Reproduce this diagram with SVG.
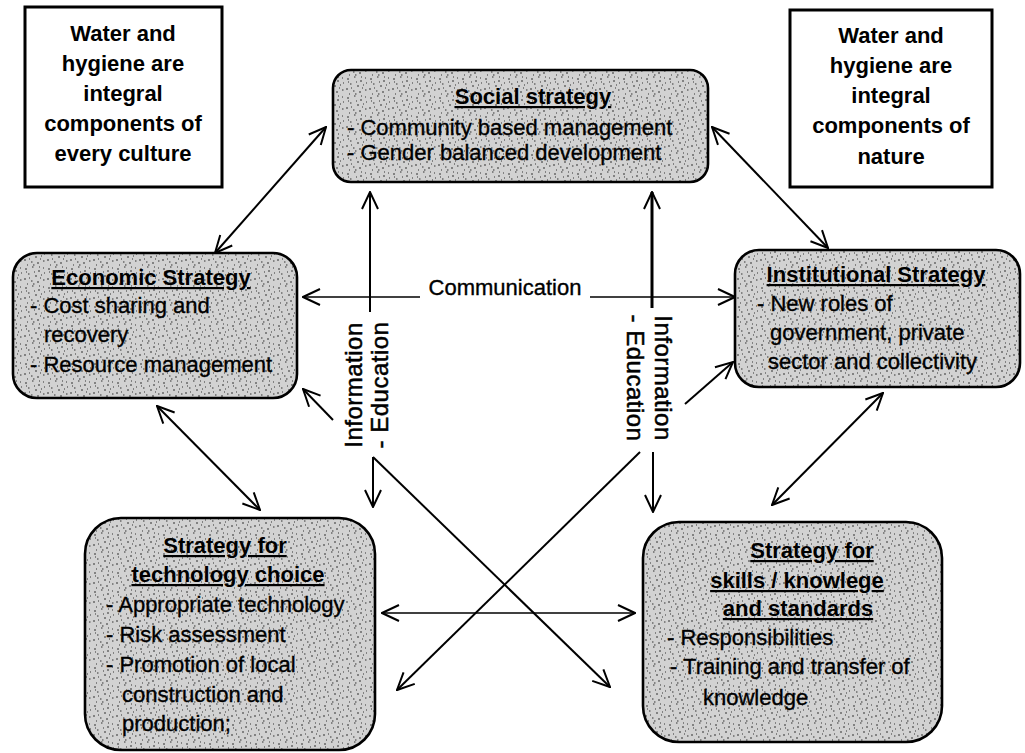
<svg xmlns="http://www.w3.org/2000/svg" width="1025" height="753" viewBox="0 0 1025 753">
<defs>
<style>
.t{font-family:"Liberation Sans",Arial,sans-serif;font-size:22px;fill:#000;stroke:#000;stroke-width:0.35}
.b{font-weight:bold;stroke-width:0}
.u{font-weight:bold;text-decoration:underline;stroke-width:0}
.box{fill:url(#stip);stroke:#000;stroke-width:2.6}
.plain{fill:#fff;stroke:#000;stroke-width:3}
.c{fill:none;stroke:#000;stroke-width:2}
.thin{stroke-width:1.3}
.thick{stroke-width:3}
.rot{font-family:"Liberation Sans",Arial,sans-serif;font-size:24px;letter-spacing:0.5px;fill:#000;stroke:#000;stroke-width:0.5}
</style>
<pattern id="stip" width="23" height="19" patternUnits="userSpaceOnUse">
<rect width="23" height="19" fill="#d2d2d2"/>
<path d="M2,3h2M9,1h1.5M15,5h2M20,2h1M5,8h1.5M12,10h2M18,9h1M1,13h2M8,15h1.5M14,16h2M20,14h1.5M4,18h1M11,6h1M17,12h1M6,12h1M21,7h1M10,18h1.5M16,1h1M3,6h1" stroke="#333" stroke-width="1.1"/>
</pattern>
<marker id="ah" viewBox="0 0 20 20" refX="19" refY="10" markerWidth="20" markerHeight="20" markerUnits="userSpaceOnUse" orient="auto-start-reverse">
<path d="M2,2 L19,10 L2,18" fill="none" stroke="#000" stroke-width="2"/>
</marker>
</defs>
<rect width="1025" height="753" fill="#fff"/>

<g id="connectors">
<path class="c" d="M215,253 L326,127" marker-start="url(#ah)" marker-end="url(#ah)"/>
<path class="c" d="M712,127 L828,248" marker-start="url(#ah)" marker-end="url(#ah)"/>
<path class="c thin" d="M420,297 L303,297" marker-end="url(#ah)"/>
<path class="c thin" d="M590,297 L735,297" marker-end="url(#ah)"/>
<path class="c" d="M370,312 L370,192" marker-end="url(#ah)"/>
<path class="c" d="M373,457 L373,507" marker-end="url(#ah)"/>
<path class="c" d="M373,457 L610,687" marker-end="url(#ah)"/>
<path class="c thick" d="M652,308 L652,192" marker-end="url(#ah)"/>
<path class="c" d="M653,452 L653,512" marker-end="url(#ah)"/>
<path class="c" d="M640,452 L397,690" marker-end="url(#ah)"/>
<path class="c" d="M157,406 L260,510" marker-start="url(#ah)" marker-end="url(#ah)"/>
<path class="c" d="M333,420 L303,389" marker-end="url(#ah)"/>
<path class="c" d="M685,404 L733,362" marker-end="url(#ah)"/>
<path class="c" d="M883,393 L772,505" marker-start="url(#ah)" marker-end="url(#ah)"/>
<path class="c thin" d="M382,613 L635,613" marker-start="url(#ah)" marker-end="url(#ah)"/>
<text class="t" x="505" y="295" text-anchor="middle">Communication</text>
<text class="rot" transform="translate(362,385) rotate(-90)" text-anchor="middle">Information</text>
<text class="rot" transform="translate(388,385) rotate(-90)" text-anchor="middle">- Education</text>
<text class="rot" transform="translate(655,378) rotate(90)" text-anchor="middle">Information</text>
<text class="rot" transform="translate(627,378) rotate(90)" text-anchor="middle">- Education</text>
</g>

<g id="culture">
<rect class="plain" x="25" y="7" width="197" height="180"/>
<text class="t b" text-anchor="middle" x="123" y="41">Water and</text>
<text class="t b" text-anchor="middle" x="123" y="71">hygiene are</text>
<text class="t b" text-anchor="middle" x="123" y="101">integral</text>
<text class="t b" text-anchor="middle" x="123" y="131">components of</text>
<text class="t b" text-anchor="middle" x="123" y="161">every culture</text>
</g>

<g id="nature">
<rect class="plain" x="790" y="10" width="202" height="177"/>
<text class="t b" text-anchor="middle" x="891" y="43">Water and</text>
<text class="t b" text-anchor="middle" x="891" y="73">hygiene are</text>
<text class="t b" text-anchor="middle" x="891" y="103">integral</text>
<text class="t b" text-anchor="middle" x="891" y="133">components of</text>
<text class="t b" text-anchor="middle" x="891" y="164">nature</text>
</g>

<g id="social">
<rect class="box" x="333" y="70" width="375" height="112" rx="18"/>
<text class="t u" text-anchor="middle" x="533" y="104">Social strategy</text>
<text class="t" x="347" y="135">- Community based management</text>
<text class="t" x="347" y="160">- Gender balanced development</text>
</g>

<g id="economic">
<rect class="box" x="13" y="253" width="284" height="145" rx="24"/>
<text class="t u" text-anchor="middle" x="151" y="285">Economic Strategy</text>
<text class="t" x="30" y="313">- Cost sharing and</text>
<text class="t" x="44" y="342">recovery</text>
<text class="t" x="30" y="372">- Resource management</text>
</g>

<g id="institutional">
<rect class="box" x="735" y="250" width="285" height="137" rx="24"/>
<text class="t u" text-anchor="middle" x="876" y="282">Institutional Strategy</text>
<text class="t" x="757" y="311">- New roles of</text>
<text class="t" x="770" y="340">government, private</text>
<text class="t" x="768" y="369">sector and collectivity</text>
</g>

<g id="technology">
<rect class="box" x="85" y="518" width="290" height="232" rx="36"/>
<text class="t u" text-anchor="middle" x="225" y="553">Strategy for</text>
<text class="t u" text-anchor="middle" x="228" y="582">technology choice</text>
<text class="t" x="106" y="612">- Appropriate technology</text>
<text class="t" x="106" y="642">- Risk assessment</text>
<text class="t" x="106" y="672">- Promotion of local</text>
<text class="t" x="122" y="702">construction and</text>
<text class="t" x="122" y="731">production;</text>
</g>

<g id="skills">
<rect class="box" x="643" y="522" width="299" height="220" rx="36"/>
<text class="t u" text-anchor="middle" x="812" y="558">Strategy for</text>
<text class="t u" text-anchor="middle" x="797" y="588">skills / knowlege</text>
<text class="t u" text-anchor="middle" x="798" y="616">and standards</text>
<text class="t" x="667" y="645">- Responsibilities</text>
<text class="t" x="670" y="674">- Training and transfer of</text>
<text class="t" x="703" y="705">knowledge</text>
</g>
</svg>
